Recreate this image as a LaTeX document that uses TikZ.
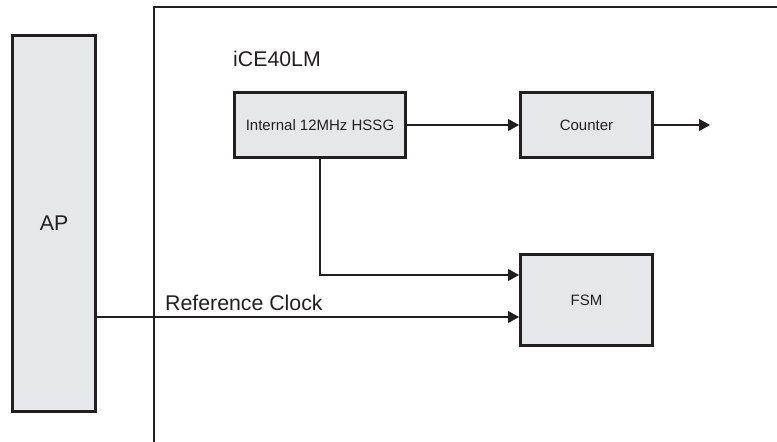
\documentclass[tikz,border=0pt]{standalone}
\usepackage{fontspec}
\setmainfont{Liberation Sans}
\usetikzlibrary{arrows.meta}
\definecolor{blkfill}{HTML}{E6E7E8}
\definecolor{ink}{HTML}{231F20}
\tikzset{
    block/.style={draw=ink, fill=blkfill, line width=2.8pt, text=ink,
        font=\fontsize{15}{18}\selectfont},
    conn/.style={draw=ink, line width=1.2pt, -{Triangle[length=11pt,width=12pt]}},
    biglabel/.style={text=ink, font=\fontsize{21.3}{25}\selectfont, inner sep=0pt}
}
\begin{document}
\begin{tikzpicture}[x=1pt, y=-1pt]
    \useasboundingbox (0,0) rectangle (777,442);

    % Khung iCE40LM
    \draw[ink, line width=2.8pt] (154,470) |- (800,7);
    \node[biglabel, anchor=base west] (chip) at (233,66) {iCE40LM};

    % Các khối
    \node[block, minimum width=83.2pt, minimum height=376.2pt] (ap) at (54,223.5) {};
    \node[biglabel] (aplabel) at (54,223) {AP};
    \node[block, minimum width=171.2pt, minimum height=65.2pt] (hssg) at (320,125) {Internal 12MHz HSSG};
    \node[block, minimum width=132.2pt, minimum height=65.2pt] (counter) at (586.5,125) {Counter};
    \node[block, minimum width=132.2pt, minimum height=91.2pt] (fsm) at (586.5,300) {FSM};

    % Đường nối
    \coordinate (out) at (710,125);
    \coordinate (fsmin) at ([yshift=25pt]fsm.west);
    \coordinate (clkin) at ([yshift=-17pt]fsm.west);
    \draw[conn] (hssg.east) -- (counter.west);
    \draw[conn] (counter.east) -- (out);
    \draw[conn] (hssg.south) |- (fsmin);
    \draw[conn] (ap.east |- clkin) -- (clkin);
    \node[biglabel, anchor=base west] (clklabel) at (165,310) {Reference Clock};
\end{tikzpicture}
\end{document}
